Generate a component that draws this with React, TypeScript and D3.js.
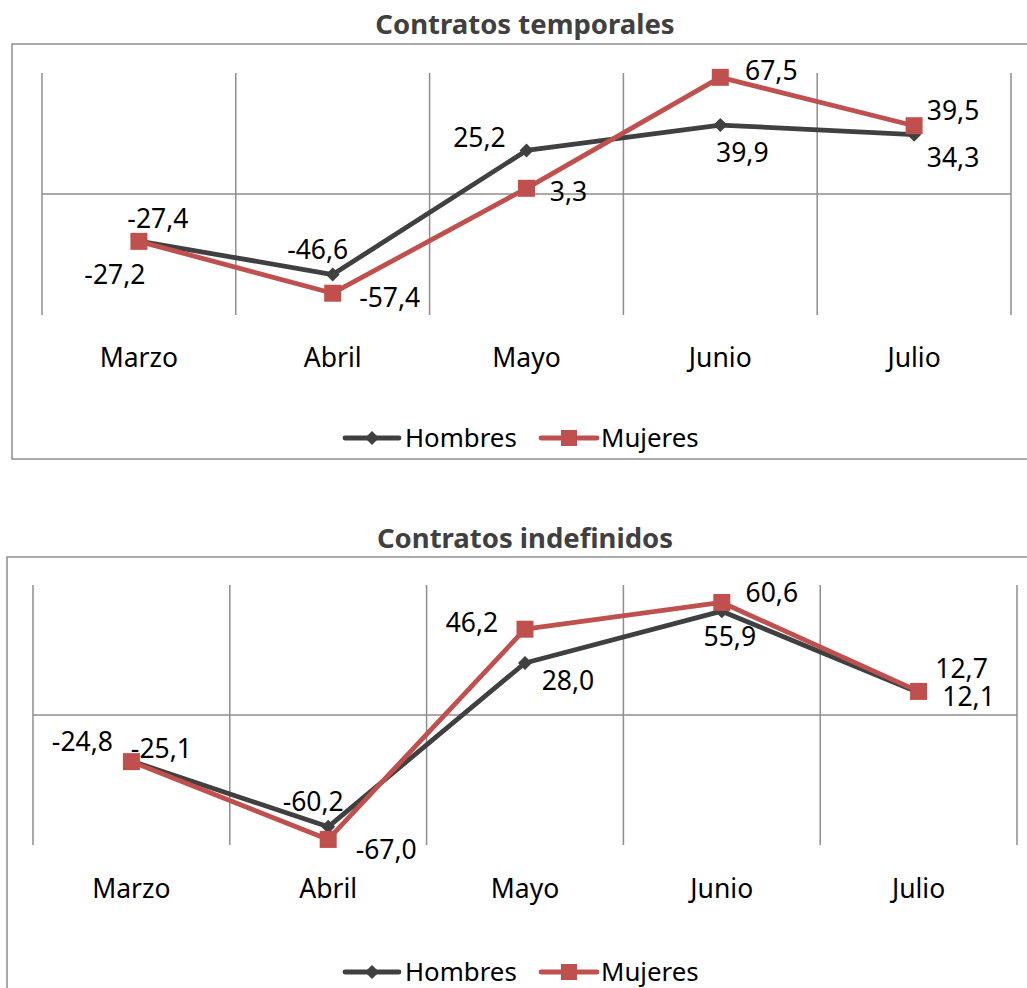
import React from "react";
import * as d3 from "d3";

const categories = ["Marzo", "Abril", "Mayo", "Junio", "Julio"];
const seriesNames = ["Hombres", "Mujeres"];

const temporalesHombres = [-27.2, -46.6, 25.2, 39.9, 34.3];
const temporalesMujeres = [-27.4, -57.4, 3.3, 67.5, 39.5];
const indefinidosHombres = [-24.8, -60.2, 28.0, 55.9, 12.1];
const indefinidosMujeres = [-25.1, -67.0, 46.2, 60.6, 12.7];

const yDomain: [number, number] = [-70, 70];

// label offsets (dx, dy) from the point, in px
const tempHombresOff = [[-24, 34], [-15, -25], [-47, -13], [22, 28], [39, 23]];
const tempMujeresOff = [[19, -23], [57, 5], [42, 3], [51, -7], [39, -15]];
const indHombresOff = [[-49, -19], [-15, -25], [43, 18], [8, 26], [50, 4]];
const indMujeresOff = [[30, -13], [58, 10], [-53, -6], [50, -10], [43, -23]];

const COLORS = { Hombres: "#404040", Mujeres: "#C0504D" };
const GRID = "#8e8e8e";
const FONT = "'Noto Sans', 'Open Sans', sans-serif";

const fmt = (v: number) => v.toFixed(1).replace(".", ",");

type PanelProps = {
  title: string;
  hombres: number[];
  mujeres: number[];
  hOff: number[][];
  mOff: number[][];
  border: { x: number; y: number; w: number; h: number };
  plot: { left: number; right: number; top: number; bottom: number };
  titleY: number;
  catY: number;
  legendY: number;
};

function Diamond({ x, y, s, color }: { x: number; y: number; s: number; color: string }) {
  return (
    <path
      d={`M${x},${y - s}L${x + s},${y}L${x},${y + s}L${x - s},${y}Z`}
      fill={color}
    />
  );
}

function Panel(p: PanelProps) {
  const x = d3
    .scaleBand<string>()
    .domain(categories)
    .range([p.plot.left, p.plot.right]);
  const y = d3.scaleLinear().domain(yDomain).range([p.plot.bottom, p.plot.top]);
  const cx = (c: string) => (x(c) as number) + x.bandwidth() / 2;
  const line = d3
    .line<number>()
    .x((_, i) => cx(categories[i]))
    .y((d) => y(d));
  const gridXs = categories.map((c) => x(c) as number).concat([p.plot.right]);
  const fsLabel = 26.5;
  const fsCat = 26.5;
  const fsLegend = 25.8;
  const series = [
    { name: "Hombres", data: p.hombres, off: p.hOff },
    { name: "Mujeres", data: p.mujeres, off: p.mOff },
  ];
  return (
    <g>
      <rect
        x={p.border.x}
        y={p.border.y}
        width={p.border.w}
        height={p.border.h}
        fill="#fff"
        stroke={GRID}
        strokeWidth={1.5}
      />
      <text
        x={525}
        y={p.titleY}
        textAnchor="middle"
        fontFamily={FONT}
        fontWeight={700}
        fontSize={27.5}
        fill="#404040"
      >
        {p.title}
      </text>
      {gridXs.map((gx, i) => (
        <line
          key={i}
          x1={gx}
          x2={gx}
          y1={p.plot.top}
          y2={p.plot.bottom}
          stroke={GRID}
          strokeWidth={1.5}
        />
      ))}
      <line
        x1={p.plot.left}
        x2={p.plot.right}
        y1={y(0)}
        y2={y(0)}
        stroke={GRID}
        strokeWidth={1.5}
      />
      {categories.map((c) => (
        <text
          key={c}
          x={cx(c)}
          y={p.catY}
          dy="0.35em"
          textAnchor="middle"
          fontFamily={FONT}
          fontSize={fsCat}
          fill="#000"
        >
          {c}
        </text>
      ))}
      {series.map((s) => (
        <path
          key={s.name}
          d={line(s.data) as string}
          fill="none"
          stroke={COLORS[s.name as "Hombres"]}
          strokeWidth={4.8}
          strokeLinejoin="round"
        />
      ))}
      {p.hombres.map((v, i) => (
        <Diamond key={i} x={cx(categories[i])} y={y(v)} s={7} color={COLORS.Hombres} />
      ))}
      {p.mujeres.map((v, i) => (
        <rect
          key={i}
          x={cx(categories[i]) - 8.5}
          y={y(v) - 8.5}
          width={17}
          height={17}
          fill={COLORS.Mujeres}
        />
      ))}
      {series.map((s) =>
        s.data.map((v, i) => (
          <text
            key={s.name + i}
            x={cx(categories[i]) + s.off[i][0]}
            y={y(v) + s.off[i][1]}
            dy="0.35em"
            textAnchor="middle"
            fontFamily={FONT}
            fontSize={fsLabel}
            fill="#000"
          >
            {fmt(v)}
          </text>
        ))
      )}
      {/* legend */}
      <g>
        <line
          x1={345}
          x2={399}
          y1={p.legendY}
          y2={p.legendY}
          stroke={COLORS.Hombres}
          strokeWidth={4.8}
          strokeLinecap="round"
        />
        <Diamond x={372} y={p.legendY} s={7} color={COLORS.Hombres} />
        <text
          x={405}
          y={p.legendY}
          dy="0.35em"
          fontFamily={FONT}
          fontSize={fsLegend}
          fill="#000"
        >
          {seriesNames[0]}
        </text>
        <line
          x1={541}
          x2={597}
          y1={p.legendY}
          y2={p.legendY}
          stroke={COLORS.Mujeres}
          strokeWidth={4.8}
          strokeLinecap="round"
        />
        <rect
          x={569 - 8}
          y={p.legendY - 8}
          width={16}
          height={16}
          fill={COLORS.Mujeres}
        />
        <text
          x={601}
          y={p.legendY}
          dy="0.35em"
          fontFamily={FONT}
          fontSize={fsLegend}
          fill="#000"
        >
          {seriesNames[1]}
        </text>
      </g>
    </g>
  );
}

export default function App() {
  return (
    <svg
      width={1027}
      height={988}
      style={{ position: "absolute", left: 0, top: 0, background: "#fff" }}
    >
      <rect x={0} y={0} width={1027} height={988} fill="#fff" />
      <Panel
        title="Contratos temporales"
        hombres={temporalesHombres}
        mujeres={temporalesMujeres}
        hOff={tempHombresOff}
        mOff={tempMujeresOff}
        border={{ x: 12, y: 44, w: 1030, h: 415 }}
        plot={{ left: 42, right: 1011, top: 73, bottom: 315 }}
        titleY={34}
        catY={358}
        legendY={438}
      />
      <Panel
        title="Contratos indefinidos"
        hombres={indefinidosHombres}
        mujeres={indefinidosMujeres}
        hOff={indHombresOff}
        mOff={indMujeresOff}
        border={{ x: 7, y: 557, w: 1030, h: 450 }}
        plot={{ left: 33, right: 1017, top: 585, bottom: 845 }}
        titleY={548}
        catY={889}
        legendY={972}
      />
    </svg>
  );
}
